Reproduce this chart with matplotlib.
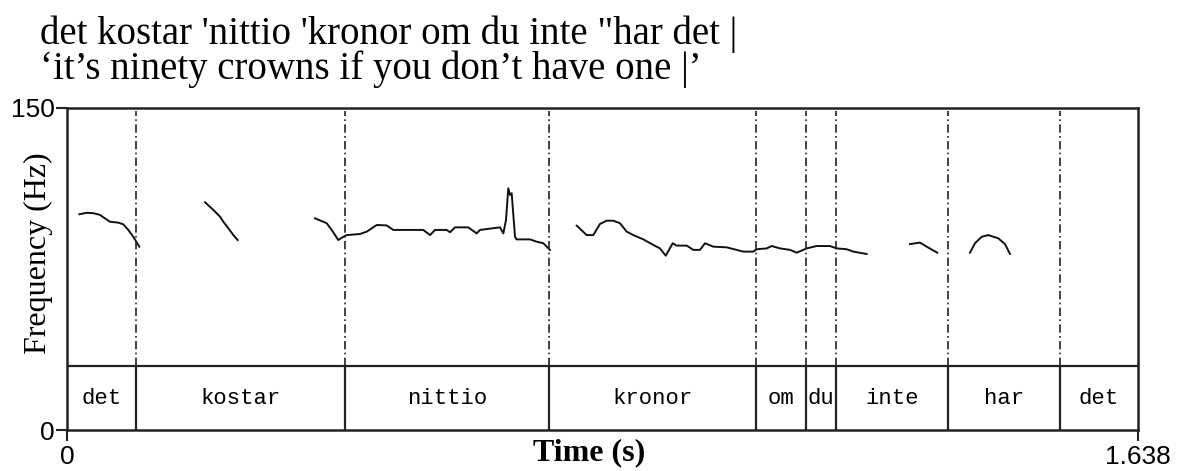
import numpy as np
from matplotlib import pyplot as plt

# границы слов (с) и подписи слов в нижнем ярусе
bounds = [0.0, 0.1055, 0.4252, 0.7372, 1.0538, 1.1302, 1.1761, 1.3474, 1.5187, 1.638]
words = ['det', 'kostar', 'nittio', 'kronor', 'om', 'du', 'inte', 'har', 'det']

# куски кривой ЧОТ: время (с) и частота (Гц)
t1 = [0.0188, 0.0301, 0.0402, 0.0505, 0.0555, 0.0658, 0.0785, 0.0861, 0.0938, 0.1014, 0.1106]
f1 = [100.5, 101.2, 101.0, 100.2, 99.1, 97.0, 96.6, 95.8, 93.2, 90.0, 85.4]

t2 = [0.2111, 0.2238, 0.2340, 0.2391, 0.2467, 0.2544, 0.2611]
f2 = [106.1, 102.5, 99.4, 97.0, 94.0, 90.8, 88.5]

t3 = [0.3793, 0.3920, 0.3972, 0.4048, 0.4149, 0.4226, 0.4278, 0.4481, 0.4584, 0.4737,
      0.4889, 0.4990, 0.5449, 0.5552, 0.5628, 0.5807, 0.5858, 0.5934, 0.6137, 0.6266,
      0.6316, 0.6622, 0.6673, 0.6714, 0.6749, 0.6775, 0.6801, 0.6852, 0.6877, 0.7081,
      0.7184, 0.7285, 0.7387]
f3 = [98.6, 97.0, 96.3, 93.2, 88.5, 90.0, 90.8, 91.3, 92.4, 95.5,
      95.3, 93.2, 93.2, 90.8, 93.2, 93.2, 92.1, 94.4, 94.4, 91.6,
      93.2, 94.4, 91.6, 97.8, 112.6, 109.5, 110.3, 90.0, 88.8, 88.8,
      87.7, 87.0, 83.9]

t4 = [0.7795, 0.7948, 0.8049, 0.8152, 0.8254, 0.8355, 0.8458, 0.8560, 0.8661, 0.8814,
      0.8967, 0.9069, 0.9157, 0.9264, 0.9325, 0.9478, 0.9579, 0.9681, 0.9758, 0.9885,
      1.0089, 1.0343, 1.0496, 1.0548, 1.0701, 1.0778, 1.0905, 1.1058, 1.1160, 1.1313,
      1.1466, 1.1669, 1.1772, 1.1925, 1.2026, 1.2230]
f4 = [95.2, 90.8, 90.8, 96.0, 97.5, 97.5, 96.3, 92.4, 90.8, 88.8,
      86.2, 84.6, 81.2, 87.0, 85.9, 85.9, 83.9, 83.9, 87.0, 85.4,
      85.1, 83.1, 83.1, 84.2, 84.6, 85.7, 84.6, 83.9, 82.6, 84.6,
      85.7, 85.7, 84.6, 84.2, 83.1, 82.0]

t5 = [1.2892, 1.3045, 1.3148, 1.3310]
f5 = [86.6, 87.3, 85.4, 82.6]

t6 = [1.3810, 1.3887, 1.3989, 1.4090, 1.4243, 1.4346, 1.4422]
f6 = [82.6, 87.0, 90.0, 90.8, 89.3, 86.6, 82.0]

tier_top = 30   # верх яруса с подписями слов (Гц)
f_max = 150
t_max = 1.638

serif = ['Liberation Serif', 'DejaVu Serif']

fig = plt.figure(figsize=(11.79, 4.71), dpi=100)
ax = fig.add_axes([67/1179, 41/471, 1071/1179, 322/471])
ax.set_xlim(0, t_max)
ax.set_ylim(0, f_max)

for s in ax.spines.values():
    s.set_linewidth(1.8)
    s.set_color('#222222')

# кривая частоты основного тона
for tt, ff in [(t1, f1), (t2, f2), (t3, f3), (t4, f4), (t5, f5), (t6, f6)]:
    ax.plot(tt, ff, color='#111111', lw=1.4)

# ярус со словами
ax.axhline(tier_top, color='#222222', lw=1.6)
for b in bounds[1:-1]:
    ax.plot([b, b], [0, tier_top], color='#222222', lw=1.6)
    ax.plot([b, b], [tier_top, f_max - 1.5], color='#222222', lw=1.2,
            linestyle=(0, (5, 2, 1, 2)))
for i in range(len(words)):
    ax.text((bounds[i] + bounds[i+1]) / 2, tier_top / 2 - 0.5, words[i],
            ha='center', va='center', fontsize=16, family='Liberation Mono')

ax.set_xticks([0, t_max])
ax.set_xticklabels(['0', '1.638'], fontsize=19, family='Liberation Sans')
ax.set_yticks([0, f_max])
ax.set_yticklabels(['0', '150'], fontsize=19, family='Liberation Sans')
ax.tick_params(axis='y', direction='out', length=8, width=1.5, pad=1, color='#222222')
ax.tick_params(axis='x', direction='out', length=8, width=1.5, pad=3, color='#222222')

# подписи осей
fig.text(38/1179, 1 - 253/471, 'Frequency (Hz)', rotation=90, fontsize=23,
         family=serif, ha='center', va='center')
fig.text(589/1179, 1 - 460/471, 'Time (s)', fontsize=23, family=serif,
         fontweight='bold', ha='center', va='baseline')

# заголовок: фраза и перевод
fig.text(40/1179, 1 - 44/471, 'det kostar \'nittio \'kronor om du inte "har det |',
         fontsize=28, family=serif, va='baseline', ha='left')
fig.text(40/1179, 1 - 79/471, '\u2018it\u2019s ninety crowns if you don\u2019t have one |\u2019',
         fontsize=28, family=serif, va='baseline', ha='left')

fig.savefig('out.png', dpi=100)
